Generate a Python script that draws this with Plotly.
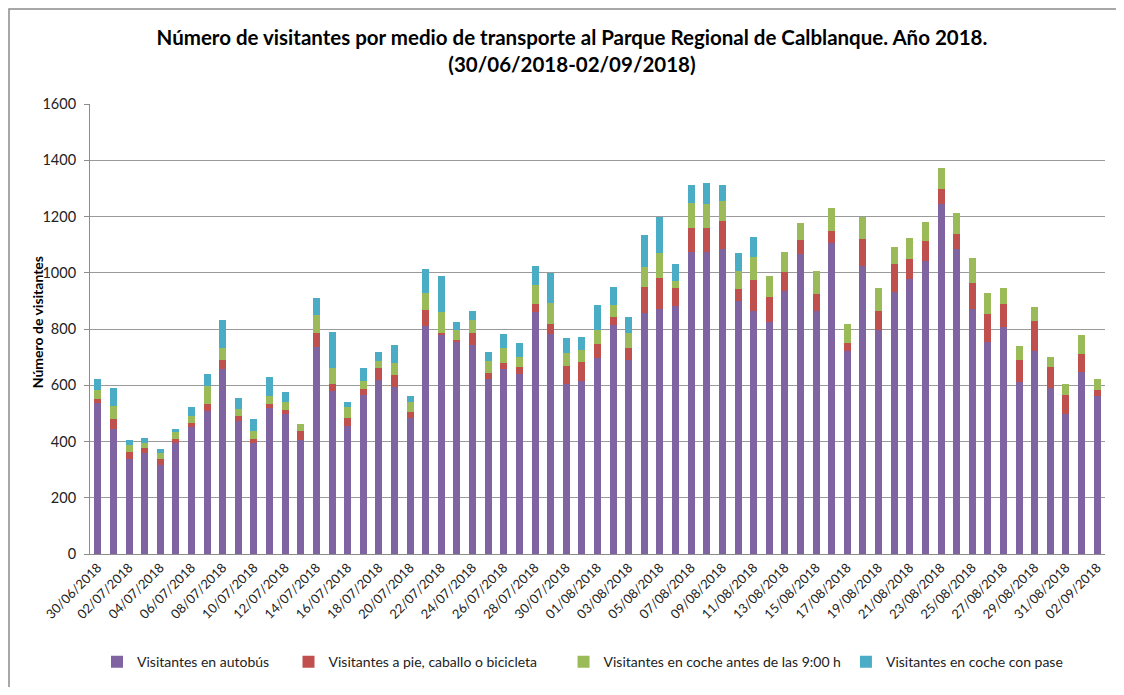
import datetime as dt
import plotly.graph_objects as go

start = dt.date(2018, 6, 30)
dates = [(start + dt.timedelta(days=i)).strftime("%d/%m/%Y") for i in range(65)]

autobus = [536, 444, 338, 360, 316, 396, 450, 507, 657, 472, 395, 519, 497, 405, 736, 580,
           456, 565, 620, 595, 484, 812, 777, 754, 743, 622, 658, 641, 862, 782, 603, 616,
           697, 813, 689, 856, 871, 882, 1073, 1073, 1086, 898, 864, 825, 934, 1068, 863, 1106,
           722, 1025, 795, 932, 977, 1041, 1244, 1084, 871, 755, 808, 612, 723, 590, 497, 646, 563]
a_pie = [16, 36, 25, 17, 22, 13, 17, 26, 33, 20, 13, 15, 16, 32, 49, 23,
         28, 22, 42, 43, 22, 56, 10, 7, 42, 23, 22, 24, 27, 35, 67, 66,
         51, 28, 42, 93, 112, 63, 87, 85, 99, 44, 110, 88, 70, 50, 60, 44,
         28, 95, 69, 100, 72, 72, 55, 55, 93, 99, 81, 79, 104, 75, 68, 66, 21]
coche_antes9 = [31, 46, 25, 18, 22, 26, 25, 65, 44, 24, 29, 29, 26, 26, 64, 59,
                39, 29, 24, 42, 33, 60, 75, 34, 48, 41, 54, 37, 66, 77, 45, 45,
                47, 46, 54, 70, 87, 26, 87, 85, 70, 64, 82, 75, 71, 59, 83, 81,
                67, 78, 81, 58, 76, 66, 72, 75, 90, 74, 57, 47, 51, 37, 38, 67, 37]
coche_pase = [41, 63, 17, 19, 13, 11, 31, 42, 98, 39, 43, 66, 37, 0, 61, 127,
              19, 45, 33, 63, 24, 85, 128, 30, 31, 33, 47, 49, 69, 104, 53, 45,
              90, 62, 58, 114, 128, 60, 65, 75, 57, 64, 72, 0, 0, 0, 0, 0,
              0, 0, 0, 0, 0, 0, 0, 0, 0, 0, 0, 0, 0, 0, 0, 0, 0]

series_names = [
    "Visitantes en autobús",
    "Visitantes a pie, caballo o bicicleta",
    "Visitantes en coche antes de las 9:00 h",
    "Visitantes en coche con pase",
]
series_values = [autobus, a_pie, coche_antes9, coche_pase]
series_colors = ["#8064A2", "#C0504D", "#9BBB59", "#4BACC6"]
legend_pads = [4, 6, 0, 0]  # extra non-breaking spaces after each legend label

fig = go.Figure()
for name, vals, col, pad in zip(series_names, series_values, series_colors, legend_pads):
    fig.add_trace(go.Bar(x=dates, y=vals, name=name + "\u00a0" * pad,
                         marker=dict(color=col, line=dict(width=0))))

FONT = "Lato, 'Open Sans', sans-serif"
# page body has an 8px margin -> figure is 1108x679, plot area at page x 90..1105, y 104..554
W, H = 1108, 679
L, T = 82, 96
PW, PH = 1015, 450
fig.update_layout(
    barmode="stack",
    bargap=0.55,
    width=W, height=H,
    margin=dict(l=L, r=W - L - PW, t=T, b=H - T - PH, autoexpand=False),
    paper_bgcolor="white", plot_bgcolor="white",
    font=dict(family=FONT, size=13, color="#222222"),
    title=dict(
        text="<b>Número de visitantes por medio de transporte al Parque Regional de Calblanque. Año 2018.<br>(30/06/2018-02/09/2018)</b>",
        x=0.509, xanchor="center", y=0.945, yanchor="top",
        font=dict(family=FONT, size=20.5, color="#000000"),
    ),
    xaxis=dict(
        type="category",
        tickmode="array", tickvals=dates[::2], ticktext=dates[::2],
        tickangle=-45, showgrid=False, showline=True, linecolor="#8c8c8c",
        ticks="", tickfont=dict(size=13, color="#222222"), automargin=False,
    ),
    yaxis=dict(
        range=[0, 1600], dtick=200, showgrid=True, gridcolor="#9a9a9a", gridwidth=1,
        showline=True, linecolor="#8c8c8c", ticks="outside", ticklen=5, tickcolor="#8c8c8c",
        ticklabelstandoff=5,
        tickfont=dict(size=14.5, color="#222222"), zeroline=False, automargin=False,
    ),
    legend=dict(
        orientation="h", x=(89 - L) / PW, xanchor="left", y=-0.205, yanchor="top",
        font=dict(size=14, color="#222222"), itemwidth=30, tracegroupgap=0,
        traceorder="normal",
    ),
    annotations=[
        dict(text="<b>Número de visitantes</b>", xref="paper", yref="paper",
             x=(29 - L) / PW, y=0.515, xanchor="center", yanchor="middle",
             textangle=-90, showarrow=False, font=dict(size=14, color="#000000")),
    ],
    shapes=[
        dict(type="rect", xref="paper", yref="paper",
             x0=(1 - L) / PW, x1=(1130 - L) / PW,
             y0=(T + PH - 700) / PH, y1=(T + PH - 1) / PH,
             line=dict(color="#8c8c8c", width=1.5), layer="below"),
    ],
)

fig.write_html("out.html")
